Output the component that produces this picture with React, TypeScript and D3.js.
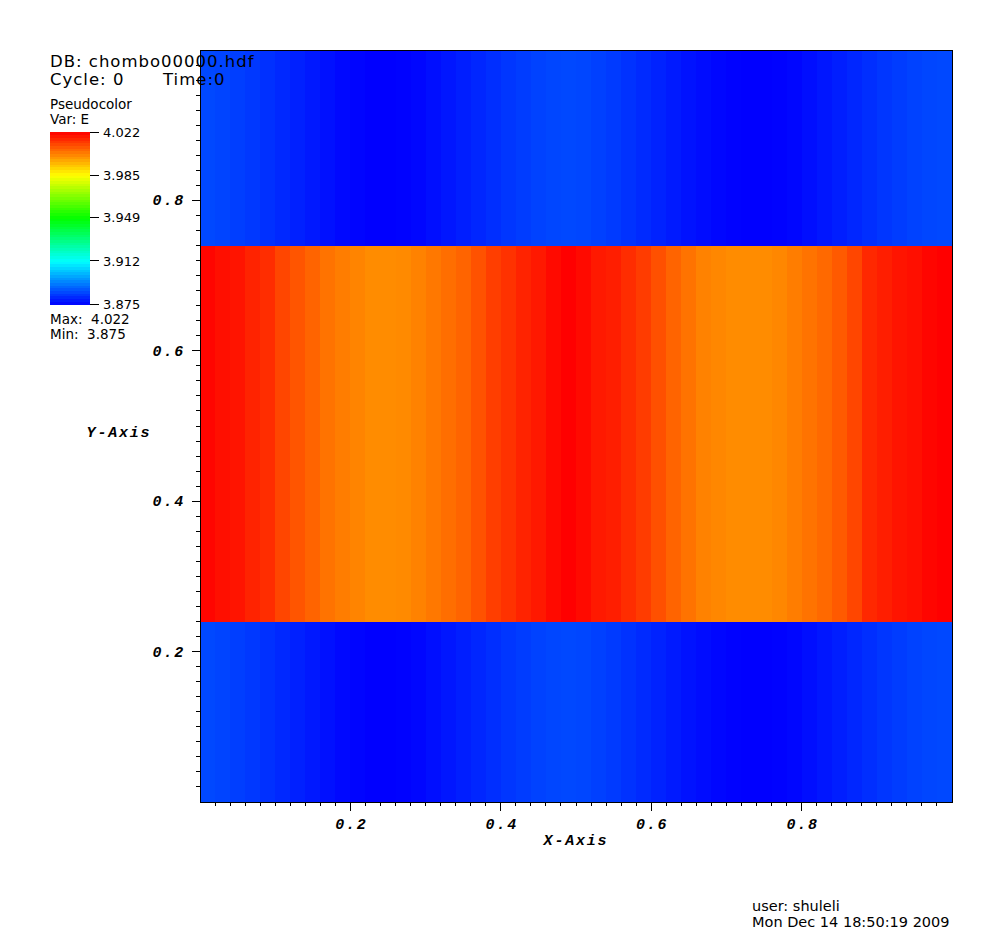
import React from "react";
import * as d3 from "d3";

// Column centres along X (50 cells of width 0.02)
const columnX: number[] = d3.range(50).map((i) => i * 0.02);

// Field value E per column in the central (high) band
const highBandE: number[] = [
  4.0213, 4.0198, 4.0191, 4.017, 4.0155, 4.0119, 4.0098, 4.0076, 4.0054, 4.004,
  4.003, 4.0018, 4.0018, 4.0021, 4.0033, 4.0047, 4.0062, 4.0076, 4.0102, 4.0131,
  4.0148, 4.017, 4.0184, 4.0206, 4.022, 4.0206, 4.0184, 4.0177, 4.0155, 4.0134,
  4.0105, 4.0076, 4.0054, 4.0033, 4.0025, 4.0018, 4.0018, 4.0018, 4.0025, 4.004,
  4.0054, 4.0069, 4.009, 4.0119, 4.0162, 4.0177, 4.0191, 4.0198, 4.0213, 4.022,
];

// Field value E per column in the outer (low) bands
const lowBandE: number[] = [
  3.8854, 3.8848, 3.8839, 3.8831, 3.8819, 3.8808, 3.8796, 3.8785, 3.8773, 3.8762,
  3.8756, 3.875, 3.875, 3.8753, 3.8759, 3.877, 3.8782, 3.8793, 3.8805, 3.8816,
  3.8828, 3.8836, 3.8845, 3.8851, 3.8854, 3.8851, 3.8842, 3.8834, 3.8822, 3.8811,
  3.8799, 3.8787, 3.8776, 3.8767, 3.8759, 3.8753, 3.875, 3.875, 3.8753, 3.8759,
  3.877, 3.8782, 3.8793, 3.8805, 3.8816, 3.8828, 3.8836, 3.8845, 3.8851, 3.8854,
];

// Horizontal bands (y extents) and which profile they use
const bandY0: number[] = [0, 0.24, 0.74];
const bandY1: number[] = [0.24, 0.74, 1.0];
const bandKind: string[] = ["low", "high", "low"];

const xTicks: number[] = [0.2, 0.4, 0.6, 0.8];
const yTicks: number[] = [0.2, 0.4, 0.6, 0.8];
const legendTicks: number[] = [3.875, 3.912, 3.949, 3.985, 4.022];
const legendTickLabels: string[] = ["3.875", "3.912", "3.949", "3.985", "4.022"];

const eMin = 3.875;
const eMax = 4.022;
const cellW = 0.02;

export default function App() {
  const W = 1003;
  const H = 944;
  const plot = { left: 200, right: 952, top: 50, bottom: 802 };

  const x = d3.scaleLinear().domain([0, 1]).range([plot.left, plot.right]);
  const y = d3.scaleLinear().domain([0, 1]).range([plot.bottom, plot.top]);

  const span = eMax - eMin;
  const color = d3
    .scaleLinear<string>()
    .domain([eMin, eMin + span * 0.25, eMin + span * 0.5, eMin + span * 0.75, eMax])
    .range(["#0000ff", "#00ffff", "#00ff00", "#ffff00", "#ff0000"])
    .interpolate(d3.interpolateRgb)
    .clamp(true);

  const cells: { x0: number; x1: number; y0: number; y1: number; v: number }[] = [];
  bandKind.forEach((k, b) => {
    const vals = k === "high" ? highBandE : lowBandE;
    columnX.forEach((cx, i) => {
      cells.push({ x0: cx, x1: cx + cellW, y0: bandY0[b], y1: bandY1[b], v: vals[i] });
    });
  });

  const minorTicks = d3.range(1, 50).map((i) => i * 0.02).filter(
    (t) => !xTicks.some((m) => Math.abs(m - t) < 1e-6)
  );

  // Legend
  const lg = { left: 50, right: 90, top: 132, bottom: 304 };
  const ly = d3.scaleLinear().domain([eMin, eMax]).range([lg.bottom, lg.top]);
  const legendSteps = d3.range(0, 64).map((i) => eMin + (span * (i + 0.5)) / 64);
  const stepH = (lg.bottom - lg.top) / 64;

  const axisFont = {
    fontFamily: "'Liberation Mono', 'DejaVu Sans Mono', monospace",
    fontWeight: "bold" as const,
    fontStyle: "italic" as const,
    fontSize: 15,
    letterSpacing: 1.8,
  };
  const sans = "'DejaVu Sans', 'Liberation Sans', sans-serif";

  return (
    <svg
      width={W}
      height={H}
      style={{ position: "absolute", left: 0, top: 0, background: "#fff" }}
    >
      <rect x={0} y={0} width={W} height={H} fill="#fff" />
      <g shapeRendering="crispEdges">
        {cells.map((c, i) => (
          <rect
            key={i}
            x={x(c.x0)}
            y={y(c.y1)}
            width={x(c.x1) - x(c.x0) + 0.5}
            height={y(c.y0) - y(c.y1)}
            fill={color(c.v)}
          />
        ))}
      </g>
      <rect
        x={plot.left}
        y={plot.top}
        width={plot.right - plot.left}
        height={plot.bottom - plot.top}
        fill="none"
        stroke="#000"
        strokeWidth={1}
        shapeRendering="crispEdges"
      />
      {/* Axis ticks */}
      <g stroke="#000" shapeRendering="crispEdges">
        {minorTicks.map((t, i) => (
          <line key={"xm" + i} x1={x(t)} x2={x(t)} y1={plot.bottom} y2={plot.bottom + 4} />
        ))}
        {xTicks.map((t, i) => (
          <line key={"xM" + i} x1={x(t)} x2={x(t)} y1={plot.bottom} y2={plot.bottom + 9} />
        ))}
        {minorTicks.map((t, i) => (
          <line key={"ym" + i} y1={y(t)} y2={y(t)} x1={plot.left} x2={plot.left - 4} />
        ))}
        {yTicks.map((t, i) => (
          <line key={"yM" + i} y1={y(t)} y2={y(t)} x1={plot.left} x2={plot.left - 8} />
        ))}
      </g>
      {xTicks.map((t, i) => (
        <text key={"xl" + i} x={x(t) + 1} y={829} textAnchor="middle" {...axisFont}>
          {d3.format(".1f")(t)}
        </text>
      ))}
      {yTicks.map((t, i) => (
        <text key={"yl" + i} x={185} y={y(t) + 5} textAnchor="end" {...axisFont}>
          {d3.format(".1f")(t)}
        </text>
      ))}
      <text x={576} y={845} textAnchor="middle" {...axisFont}>X-Axis</text>
      <text x={119} y={437} textAnchor="middle" {...axisFont}>Y-Axis</text>

      {/* Legend */}
      <g shapeRendering="crispEdges">
        {legendSteps.map((v, i) => (
          <rect
            key={"ls" + i}
            x={lg.left}
            y={lg.bottom - (i + 1) * stepH}
            width={lg.right - lg.left}
            height={stepH + 0.5}
            fill={color(v)}
          />
        ))}
        {legendTicks.map((t, i) => (
          <line key={"lt" + i} x1={lg.right} x2={lg.right + 9} y1={ly(t)} y2={ly(t)} stroke="#000" />
        ))}
      </g>
      {legendTicks.map((t, i) => (
        <text key={"ll" + i} x={103} y={ly(t) + 5} fontFamily={sans} fontSize={13} fill="#000">
          {legendTickLabels[i]}
        </text>
      ))}

      {/* Annotations */}
      <g fontFamily={sans} fill="#000" style={{ whiteSpace: "pre" }}>
        <text x={50} y={67} fontSize={16.5} letterSpacing={1}>DB: chombo00000.hdf</text>
        <text x={50} y={85} fontSize={16.5} letterSpacing={1}>Cycle: 0</text>
        <text x={163} y={85} fontSize={16.5} letterSpacing={1}>Time:0</text>
        <text x={50} y={109} fontSize={13.5}>Pseudocolor</text>
        <text x={50} y={124} fontSize={13.5}>Var: E</text>
        <text x={50} y={324} fontSize={13.5} xmlSpace="preserve">{"Max:  4.022"}</text>
        <text x={50} y={339} fontSize={13.5} xmlSpace="preserve">{"Min:  3.875"}</text>
        <text x={752} y={911} fontSize={14.5}>user: shuleli</text>
        <text x={752} y={927} fontSize={14.5}>Mon Dec 14 18:50:19 2009</text>
      </g>
    </svg>
  );
}
